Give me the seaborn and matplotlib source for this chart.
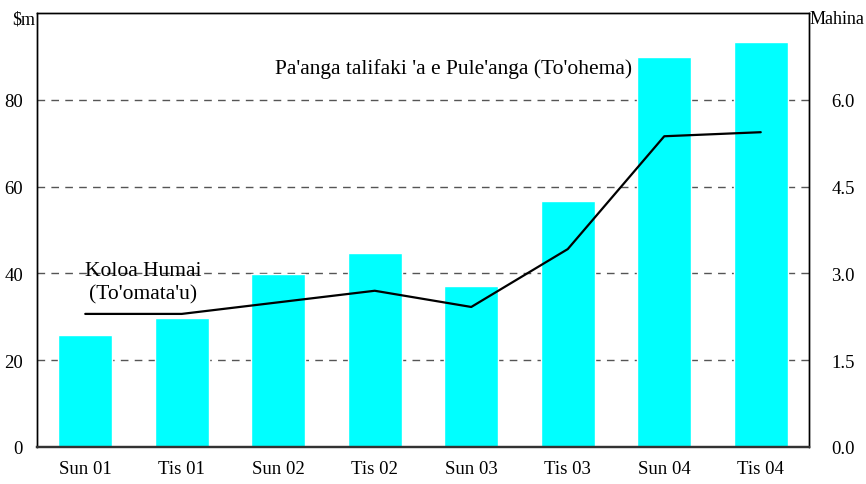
import matplotlib
matplotlib.use("Agg")
import matplotlib.pyplot as plt
import numpy as np
import pandas as pd
import seaborn as sns

# Chart data.
periods = ["Sun 01", "Tis 01", "Sun 02", "Tis 02", "Sun 03", "Tis 03", "Sun 04", "Tis 04"]
imports_m = [25.8, 29.7, 39.9, 44.7, 37.1, 56.7, 89.9, 93.4]
months_cover = [2.30, 2.30, 2.50, 2.70, 2.42, 3.42, 5.37, 5.44]
left_ticks = [0, 20, 40, 60, 80]
right_ticks = [0.0, 1.5, 3.0, 4.5, 6.0]


def main() -> None:
    sns.set_theme(style="white")
    plt.rcParams["font.family"] = ["Liberation Serif", "DejaVu Serif"]
    plt.rcParams["font.size"] = 13.5
    plt.rcParams["text.color"] = "black"

    df = pd.DataFrame({"period": periods, "imports": imports_m,
                       "months": months_cover, "pos": np.arange(len(periods))})

    fig, ax = plt.subplots(figsize=(8.66, 4.85), dpi=100)
    fig.subplots_adjust(left=37 / 866, right=809 / 866,
                        bottom=1 - 448 / 485, top=1 - 14 / 485)

    sns.barplot(data=df, x="period", y="imports", color="#00ffff",
                saturation=1, width=0.56, ax=ax)
    ax.set_xlim(-0.5, len(periods) - 0.5)
    ax.set_ylim(0, 100)
    ax.set_yticks(left_ticks)
    ax.set_xlabel("")
    ax.set_ylabel("")
    ax.set_axisbelow(True)
    ax.yaxis.grid(True, color="#555555", linestyle=(0, (5.5, 4.5)), linewidth=1)
    ax.tick_params(axis="both", length=0, labelsize=13.5, colors="black")
    ax.tick_params(axis="x", pad=9)
    ax.tick_params(axis="y", pad=10)

    ax2 = ax.twinx()
    sns.lineplot(data=df, x="pos", y="months", color="black", linewidth=1.6, ax=ax2)
    ax2.set_ylim(0, 7.5)
    ax2.set_yticks(right_ticks)
    ax2.set_yticklabels([f"{t:.1f}" for t in right_ticks])
    ax2.set_ylabel("")
    ax2.set_xlabel("")
    ax2.tick_params(axis="y", length=0, labelsize=13.5, pad=16, colors="black")
    ax2.set_xlim(-0.5, len(periods) - 0.5)

    for a in (ax, ax2):
        for side in ("left", "right", "top"):
            a.spines[side].set_color("black")
            a.spines[side].set_linewidth(1)
        a.spines["bottom"].set_color("#333333")
        a.spines["bottom"].set_linewidth(1.6)

    fig.text(35 / 866, 1 - 20 / 485, "$m", ha="right", va="center", fontsize=13)
    fig.text(810 / 866, 1 - 20 / 485, "Mahina", ha="left", va="center", fontsize=13)

    ax.text(0.60, 38.0, "Koloa Humai\n(To'omata'u)", ha="center", va="center",
            fontsize=15.5, linespacing=1.32)
    ax.text(3.82, 87.4, "Pa'anga talifaki 'a e Pule'anga (To'ohema)",
            ha="center", va="center", fontsize=15.5)

    fig.savefig("out.png", dpi=100)
    plt.close(fig)


if __name__ == "__main__":
    main()
